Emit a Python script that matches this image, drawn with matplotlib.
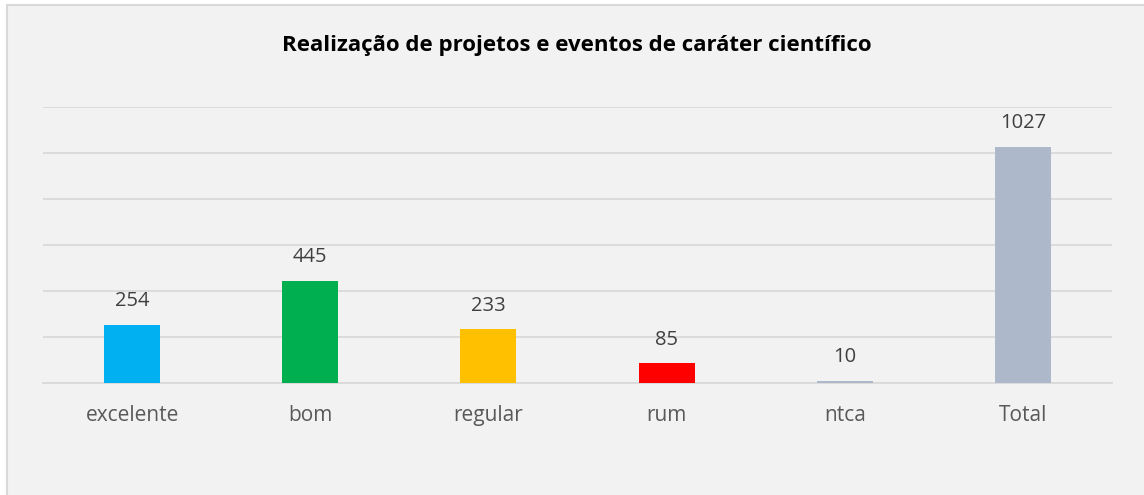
import matplotlib.pyplot as plt
from matplotlib.patches import Rectangle

categories = ["excelente", "bom", "regular", "rum", "ntca", "Total"]
values = [254, 445, 233, 85, 10, 1027]
colors = ["#00B0F0", "#00B050", "#FFC000", "#FF0000", "#ADB9CA", "#ADB9CA"]
title = "Realização de projetos e eventos de caráter científico"

plt.rcParams["font.family"] = ["Open Sans", "DejaVu Sans"]

W, H = 1144, 495
fig = plt.figure(figsize=(W / 100, H / 100), dpi=100)
fig.patch.set_facecolor("white")

# chart area with the light border, cut off at right and bottom
fig.patches.append(Rectangle((7 / W, -0.1), 1.2, 1 - 5 / H + 0.1,
                             transform=fig.transFigure, facecolor="#F2F2F2",
                             edgecolor="#D9D9D9", linewidth=1.5, zorder=-5))

ax = fig.add_axes([43 / W, 1 - 383 / H, (1112 - 43) / W, (383 - 107) / H])
ax.set_facecolor("none")
ax.set_zorder(2)

x = range(len(categories))
bars = ax.bar(x, values, width=0.315, color=colors, zorder=3)
for b, v in zip(bars, values):
    ax.annotate(str(v), (b.get_x() + b.get_width() / 2, v), xytext=(0, 10),
                textcoords="offset points", ha="center", va="bottom",
                fontsize=14.5, color="#404040")

ax.set_xlim(-0.5, len(categories) - 0.5)
ax.set_ylim(0, 1200)
ax.set_yticks(range(0, 1201, 200))
ax.yaxis.grid(True, color="#D9D9D9", linewidth=1.3)
ax.set_axisbelow(True)
ax.tick_params(axis="y", left=False, labelleft=False)
ax.tick_params(axis="x", length=0, pad=16, labelsize=15, labelcolor="#595959")
ax.set_xticks(list(x))
ax.set_xticklabels(categories)
for s in ["top", "right", "left"]:
    ax.spines[s].set_visible(False)
ax.spines["bottom"].set_color("#D9D9D9")
ax.spines["bottom"].set_linewidth(1.3)

fig.text(577 / W, 1 - 45 / H, title, ha="center", va="center",
         fontsize=16, fontweight="bold", color="black")

fig.savefig("out.png", dpi=100)
